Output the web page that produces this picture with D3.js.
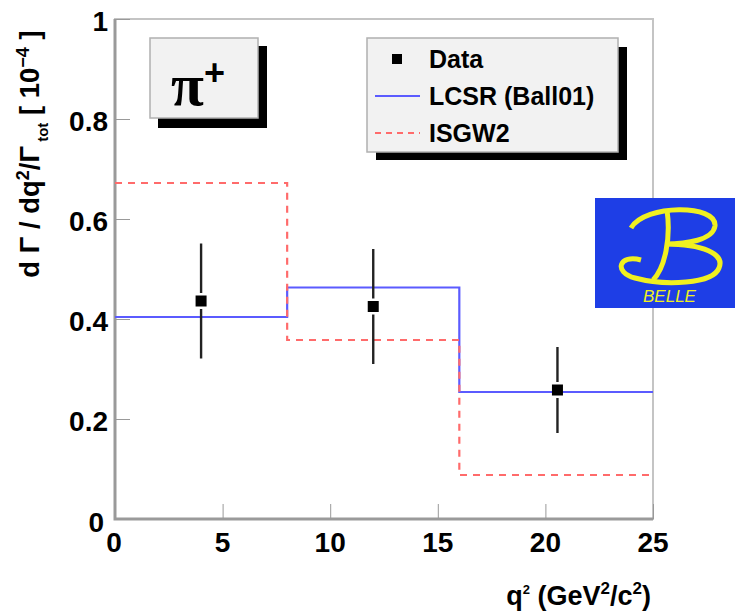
<!DOCTYPE html>
<html>
<head>
<meta charset="utf-8">
<script src="https://cdn.jsdelivr.net/npm/d3@7"></script>
<style>
  body { margin: 0; background: #fff; }
  text { font-family: "Liberation Sans", Arial, Helvetica, sans-serif; font-weight: bold; fill: #000; }
</style>
</head>
<body>
<svg id="chart" width="735" height="616"></svg>
<script>
// bin edges in q^2 and the theory predictions per bin
const binEdges = [0, 8, 16, 25];
const lcsrValues = [0.404, 0.463, 0.254];
const isgw2Values = [0.672, 0.358, 0.088];

// measured points
const dataQ2 = [4.0, 12.0, 20.56];
const dataValues = [0.436, 0.425, 0.258];
const dataErrors = [0.115, 0.115, 0.086];

const xTicks = [0, 5, 10, 15, 20, 25];
const yTicks = [0, 0.2, 0.4, 0.6, 0.8, 1];
const legendLabels = ["Data", "LCSR (Ball01)", "ISGW2"];

const svg = d3.select("#chart");
const frame = { left: 115, right: 653, top: 19, bottom: 519 };

const x = d3.scaleLinear().domain([0, 25]).range([frame.left, frame.right]);
const y = d3.scaleLinear().domain([0, 1]).range([frame.bottom, frame.top]);

// frame
svg.append("rect")
  .attr("x", frame.left).attr("y", frame.top)
  .attr("width", frame.right - frame.left).attr("height", frame.bottom - frame.top)
  .attr("fill", "#fff").attr("stroke", "#c4c4c4").attr("stroke-width", 2);
svg.append("path")
  .attr("d", `M${frame.left},${frame.top}V${frame.bottom}H${frame.right}`)
  .attr("fill", "none").attr("stroke", "#9a9a9a").attr("stroke-width", 3);

// axes
const fmt = d3.format("~g");
const yAxis = svg.append("g")
  .attr("transform", `translate(${frame.left},0)`)
  .call(d3.axisRight(y).tickValues(yTicks).tickSize(15).tickFormat(""));
yAxis.select(".domain").remove();
yAxis.selectAll("line").attr("stroke", "#999");

const xAxis = svg.append("g")
  .attr("transform", `translate(0,${frame.bottom})`)
  .call(d3.axisTop(x).tickValues(xTicks).tickSize(15).tickFormat(""));
xAxis.select(".domain").remove();
xAxis.selectAll("line").attr("stroke", "#999");

svg.append("g").selectAll("text")
  .data(yTicks)
  .join("text")
  .attr("x", d => d === 0 ? 104 : 108)
  .attr("y", d => y(d) + (d === 0 ? 13 : 12))
  .attr("text-anchor", "end")
  .attr("font-size", 28)
  .text(fmt);

svg.append("g").selectAll("text")
  .data(xTicks)
  .join("text")
  .attr("x", d => x(d) + (d === 0 ? -1 : 0))
  .attr("y", 552)
  .attr("text-anchor", "middle")
  .attr("font-size", 28)
  .text(fmt);

// axis titles
const yTitle = svg.append("text")
  .attr("transform", "translate(39,154) rotate(-90)")
  .attr("text-anchor", "middle")
  .attr("font-size", 27.5);
yTitle.append("tspan").text("d Γ / dq");
yTitle.append("tspan").attr("dy", -10).attr("font-size", 18).text("2");
yTitle.append("tspan").attr("dy", 10).text("/Γ");
yTitle.append("tspan").attr("dy", 9).attr("font-size", 15).text(" tot");
yTitle.append("tspan").attr("dy", -9).text(" [ 10");
yTitle.append("tspan").attr("dy", -10).attr("font-size", 18).text("−4");
yTitle.append("tspan").attr("dy", 10).text(" ]");

const xTitle = svg.append("text")
  .attr("x", 651).attr("y", 605)
  .attr("text-anchor", "end")
  .attr("font-size", 27);
xTitle.append("tspan").text("q");
xTitle.append("tspan").attr("dy", -11).attr("font-size", 13).text("2");
xTitle.append("tspan").attr("dy", 11).text(" (GeV");
xTitle.append("tspan").attr("dy", -11).attr("font-size", 17).text("2");
xTitle.append("tspan").attr("dy", 11).text("/c");
xTitle.append("tspan").attr("dy", -11).attr("font-size", 17).text("2");
xTitle.append("tspan").attr("dy", 11).text(")");

// step histograms
const stepLine = d3.line()
  .x(d => x(d[0]))
  .y(d => y(d[1]))
  .curve(d3.curveStepAfter);
const stepPoints = vals => binEdges.map((e, i) => [e, vals[Math.min(i, vals.length - 1)]]);

svg.append("path")
  .datum(stepPoints(lcsrValues))
  .attr("d", stepLine)
  .attr("fill", "none")
  .attr("stroke", "#5b5bff")
  .attr("stroke-width", 2.2);

svg.append("path")
  .datum(stepPoints(isgw2Values))
  .attr("d", stepLine)
  .attr("fill", "none")
  .attr("stroke", "#ff6b6b")
  .attr("stroke-width", 2.2)
  .attr("stroke-dasharray", "7,6");

// data points with error bars (gap around marker)
const pts = dataQ2.map((q, i) => ({ q: q, v: dataValues[i], e: dataErrors[i] }));
const gap = 8;
const bars = svg.append("g").selectAll("g").data(pts).join("g");
bars.append("line")
  .attr("x1", d => x(d.q)).attr("x2", d => x(d.q))
  .attr("y1", d => y(d.v + d.e)).attr("y2", d => y(d.v) - gap)
  .attr("stroke", "#222").attr("stroke-width", 2.4);
bars.append("line")
  .attr("x1", d => x(d.q)).attr("x2", d => x(d.q))
  .attr("y1", d => y(d.v) + gap).attr("y2", d => y(d.v - d.e))
  .attr("stroke", "#222").attr("stroke-width", 2.4);
bars.append("rect")
  .attr("x", d => x(d.q) - 5.5).attr("y", d => y(d.v) - 5.5)
  .attr("width", 11).attr("height", 11)
  .attr("fill", "#000");

// pi+ label box
svg.append("rect").attr("x", 158).attr("y", 46).attr("width", 109).attr("height", 82).attr("fill", "#000");
svg.append("rect").attr("x", 150).attr("y", 38).attr("width", 108).attr("height", 80)
  .attr("fill", "#f2f2f2").attr("stroke", "#b0b0b0").attr("stroke-width", 1.5);
const pi = svg.append("text")
  .attr("x", 171).attr("y", 105)
  .style("font-family", "'Liberation Serif', serif")
  .style("font-weight", "bold")
  .attr("font-size", 60);
pi.append("tspan").text("π");
pi.append("tspan").attr("dy", -20).attr("font-size", 36).style("font-family", "'Liberation Sans', sans-serif").text("+");

// legend
const legend = svg.append("g");
legend.append("rect").attr("x", 376).attr("y", 47).attr("width", 251).attr("height", 113).attr("fill", "#000");
legend.append("rect").attr("x", 367).attr("y", 38).attr("width", 251).attr("height", 114)
  .attr("fill", "#f2f2f2").attr("stroke", "#b0b0b0").attr("stroke-width", 1.5);
const rowY = [59, 96, 133];
legend.append("rect").attr("x", 392).attr("y", rowY[0] - 5).attr("width", 10).attr("height", 10).attr("fill", "#000");
legend.append("line").attr("x1", 375).attr("x2", 420).attr("y1", rowY[1]).attr("y2", rowY[1])
  .attr("stroke", "#5b5bff").attr("stroke-width", 2.2);
legend.append("line").attr("x1", 375).attr("x2", 420).attr("y1", rowY[2]).attr("y2", rowY[2])
  .attr("stroke", "#ff6b6b").attr("stroke-width", 2.2).attr("stroke-dasharray", "6,5");
legend.selectAll("text.lab")
  .data(legendLabels)
  .join("text")
  .attr("class", "lab")
  .attr("x", 429)
  .attr("y", (d, i) => rowY[i] + 9)
  .attr("font-size", 25)
  .text(d => d);

// Belle logo
const logo = svg.append("g").attr("transform", "translate(595,198)");
logo.append("rect").attr("width", 142).attr("height", 110).attr("fill", "#1e3ee6");
logo.append("path")
  .attr("d", "M36,30 C50,6 122,6 120,28 C118,42 92,46 70,46 C108,46 130,56 124,70 C118,86 70,88 40,80 C18,74 24,56 46,62")
  .attr("fill", "none").attr("stroke", "#f0f020").attr("stroke-width", 5);
logo.append("path")
  .attr("d", "M72,12 C76,40 70,70 58,82")
  .attr("fill", "none").attr("stroke", "#f0f020").attr("stroke-width", 5);
logo.append("text")
  .attr("x", 48).attr("y", 104)
  .attr("font-size", 17)
  .style("font-weight", "normal")
  .style("font-style", "italic")
  .style("fill", "#f0f020")
  .text("BELLE");
</script>
</body>
</html>
